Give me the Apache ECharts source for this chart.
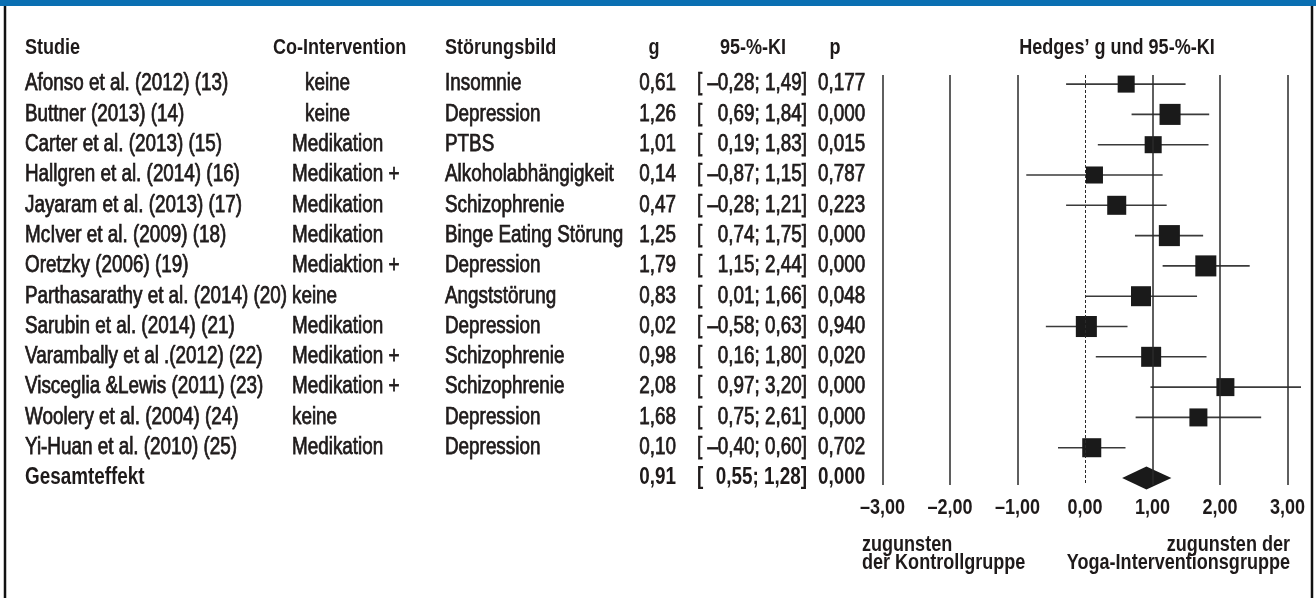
<!DOCTYPE html>
<html>
<head>
<meta charset="utf-8">
<script src="https://cdn.jsdelivr.net/npm/echarts@6/dist/echarts.min.js"></script>
<style>
html,body{margin:0;padding:0;background:#fff;}
#chart{width:1316px;height:598px;}
</style>
</head>
<body>
<div id="chart"></div>
<script>
// ---- data ----
const studies = [
  'Afonso et al. (2012) (13)', 'Buttner (2013) (14)', 'Carter et al. (2013) (15)',
  'Hallgren et al. (2014) (16)', 'Jayaram et al. (2013) (17)', 'McIver et al. (2009) (18)',
  'Oretzky (2006) (19)', 'Parthasarathy et al. (2014) (20)', 'Sarubin et al. (2014) (21)',
  'Varambally et al .(2012) (22)', 'Visceglia &Lewis (2011) (23)', 'Woolery et al. (2004) (24)',
  'Yi-Huan et al. (2010) (25)'
];
const coInterventions = ['keine', 'keine', 'Medikation', 'Medikation +', 'Medikation', 'Medikation',
  'Mediaktion +', 'keine', 'Medikation', 'Medikation +', 'Medikation +', 'keine', 'Medikation'];
const disorders = ['Insomnie', 'Depression', 'PTBS', 'Alkoholabhängigkeit', 'Schizophrenie',
  'Binge Eating Störung', 'Depression', 'Angststörung', 'Depression', 'Schizophrenie',
  'Schizophrenie', 'Depression', 'Depression'];
const gValues = [0.61, 1.26, 1.01, 0.14, 0.47, 1.25, 1.79, 0.83, 0.02, 0.98, 2.08, 1.68, 0.10];
const ciLower = [-0.28, 0.69, 0.19, -0.87, -0.28, 0.74, 1.15, 0.01, -0.58, 0.16, 0.97, 0.75, -0.40];
const ciUpper = [1.49, 1.84, 1.83, 1.15, 1.21, 1.75, 2.44, 1.66, 0.63, 1.80, 3.20, 2.61, 0.60];
const pValues = ['0,177', '0,000', '0,015', '0,787', '0,223', '0,000', '0,000', '0,048', '0,940',
  '0,020', '0,000', '0,000', '0,702'];
const weights = [6.1, 9.3, 6.1, 6.1, 7.6, 9.3, 9.3, 8.4, 9.3, 8.4, 6.8, 6.8, 7.6]; // relative study weights (%)
const totalLabel = 'Gesamteffekt';
const overallG = 0.91;
const overallLower = 0.55;
const overallUpper = 1.28;
const overallP = '0,000';
const xTicks = [-3, -2, -1, 0, 1, 2, 3];
const headers = ['Studie', 'Co-Intervention', 'Störungsbild', 'g', '95-%-KI', 'p', 'Hedges’ g und 95-%-KI'];
const favourLeft = ['zugunsten', 'der Kontrollgruppe'];
const favourRight = ['zugunsten der', 'Yoga-Interventionsgruppe'];

// ---- helpers ----
const FAM = '"Liberation Sans",Arial,sans-serif';
const SX = 0.82; // condensed look
const rowFont = '23px ' + FAM;
const boldFont = 'bold 22px ' + FAM;
const boldRowFont = 'bold 23px ' + FAM;
const INK = '#1e1a1a';
function fmt(v) { return (v < 0 ? '–' : '') + Math.abs(v).toFixed(2).replace('.', ','); }

const nRows = studies.length + 1;
const rowIdx = Array.from({length: nRows}, (_, i) => i);

function txt(x, y, s, font, align, heavy) {
  const st = { text: s, font: font, fill: INK,
    textAlign: align || 'left', textVerticalAlign: 'middle', align: align || 'left', verticalAlign: 'middle' };
  if (heavy) { st.stroke = INK; st.lineWidth = 0.75; }
  return { type: 'text', x: x, y: y, scaleX: SX, scaleY: 1, style: st };
}

const chart = echarts.init(document.getElementById('chart'), null, {renderer: 'canvas'});

const option = {
  animation: false,
  backgroundColor: '#fff',
  grid: { left: 882.5, right: 28.5, top: 75, height: 410 },
  xAxis: {
    type: 'value', min: -3, max: 3, interval: 1,
    axisLine: { show: false }, axisTick: { show: false }, splitLine: { show: false },
    axisLabel: { show: false }
  },
  yAxis: { type: 'value', inverse: true, min: -0.3, max: 13.23, show: false },
  graphic: [
    { type: 'rect', shape: { x: 0, y: 0, width: 1316, height: 6 }, style: { fill: '#0a6fb2' } },
    { type: 'line', shape: { x1: 5, y1: 6, x2: 5, y2: 598 }, style: { stroke: '#111', lineWidth: 2.5 } },
    { type: 'line', shape: { x1: 1312, y1: 6, x2: 1312, y2: 598 }, style: { stroke: '#111', lineWidth: 2.5 } },
    txt(25, 48, headers[0], boldFont),
    txt(273, 48, headers[1], boldFont),
    txt(445, 48, headers[2], boldFont),
    txt(654, 48, headers[3], boldFont, 'center'),
    txt(753, 48, headers[4], boldFont, 'center'),
    txt(835, 48, headers[5], boldFont, 'center'),
    txt(1117, 48, headers[6], boldFont, 'center'),
    txt(862, 545, favourLeft[0], boldFont),
    txt(862, 563, favourLeft[1], boldFont),
    txt(1290, 545, favourRight[0], boldFont, 'right'),
    txt(1290, 563, favourRight[1], boldFont, 'right')
  ],
  series: [
    { // table text
      type: 'custom', clip: false, silent: true,
      data: rowIdx.map(i => [0, i]),
      renderItem: function (params, api) {
        const i = api.value(1);
        const y = api.coord([0, i])[1];
        const total = i === studies.length;
        const f = total ? boldRowFont : rowFont;
        const hv = !total;
        const g = total ? overallG : gValues[i];
        const lo = total ? overallLower : ciLower[i];
        const hi = total ? overallUpper : ciUpper[i];
        const p = total ? overallP : pValues[i];
        const kids = [];
        kids.push(txt(25, y, total ? totalLabel : studies[i], f, 'left', hv));
        if (!total) {
          kids.push(txt(i < 2 ? 305 : 292, y, coInterventions[i], f, 'left', hv));
          kids.push(txt(445, y, disorders[i], f, 'left', hv));
        }
        kids.push(txt(676, y, fmt(g), f, 'right', hv));
        kids.push(txt(697, y, '[', f, 'left', hv));
        kids.push(txt(807, y, fmt(lo) + '; ' + fmt(hi) + ']', f, 'right', hv));
        kids.push(txt(818, y, p, f, 'left', hv));
        return { type: 'group', children: kids };
      },
      z: 5
    },
    { // x tick labels
      type: 'custom', clip: false, silent: true,
      data: xTicks.map(v => [v, 13.23]),
      renderItem: function (params, api) {
        const c = api.coord([api.value(0), api.value(1)]);
        return txt(c[0], c[1] + 23, fmt(api.value(0)), boldFont, 'center');
      },
      z: 5
    },
    { // confidence intervals
      type: 'custom', clip: false, silent: true,
      data: gValues.map((g, i) => [ciLower[i], ciUpper[i], i]),
      encode: { x: [0, 1], y: 2 },
      renderItem: function (params, api) {
        const a = api.coord([api.value(0), api.value(2)]);
        const b = api.coord([api.value(1), api.value(2)]);
        return { type: 'line', shape: { x1: a[0], y1: a[1], x2: b[0], y2: b[1] },
          style: { stroke: '#3a3a3a', lineWidth: 1.6 } };
      },
      z: 3
    },
    { // point estimates
      type: 'scatter', silent: true,
      symbol: 'rect',
      data: gValues.map((g, i) => ({ value: [g, i], symbolSize: 6.9 * Math.sqrt(weights[i]) })),
      itemStyle: { color: '#1a1a1a', opacity: 1 },
      z: 4,
      markLine: {
        silent: true, symbol: 'none', label: { show: false },
        data: xTicks.map(v => ({ xAxis: v,
          lineStyle: { color: '#2a2a2a', type: v === 0 ? [3, 2] : 'solid', width: v === 0 ? 1 : 1.5 } }))
      }
    },
    { // overall diamond
      type: 'custom', clip: false, silent: true,
      data: [[overallLower, overallG, overallUpper, studies.length]],
      encode: { x: [0, 2], y: 3 },
      renderItem: function (params, api) {
        const r = api.value(3);
        const l = api.coord([api.value(0), r]);
        const c = api.coord([api.value(1), r]);
        const rr = api.coord([api.value(2), r]);
        const h = 11.5;
        return { type: 'polygon', shape: { points: [[l[0], l[1]], [c[0], c[1] - h], [rr[0], rr[1]], [c[0], c[1] + h]] },
          style: { fill: '#1a1a1a' } };
      },
      z: 4
    }
  ]
};
chart.setOption(option);
</script>
</body>
</html>
